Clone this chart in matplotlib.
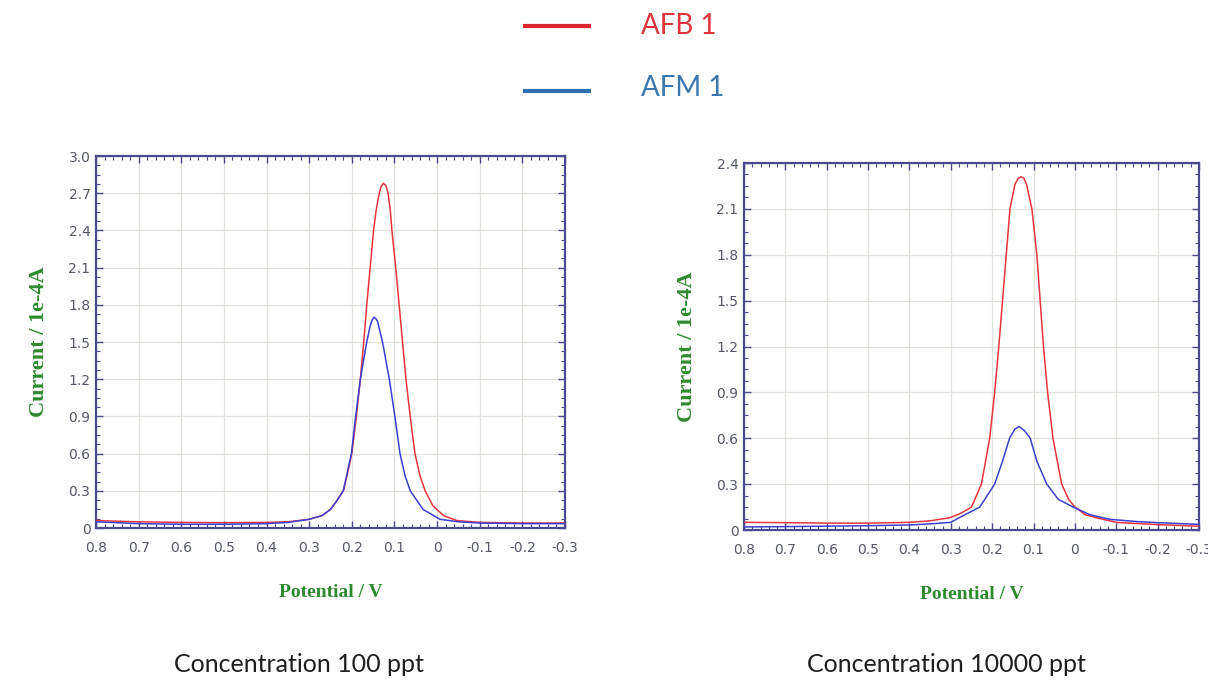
import matplotlib
matplotlib.use('Agg')
import matplotlib.pyplot as plt
import matplotlib.ticker as mticker

# ── Data (potential in V, current in 1e-4 A) ──
afb_100_x = [0.80, 0.70, 0.60, 0.50, 0.40, 0.35, 0.30, 0.27, 0.25, 0.235,
             0.22, 0.21, 0.20, 0.19, 0.18, 0.172, 0.165, 0.157, 0.149, 0.143,
             0.138, 0.132, 0.126, 0.12, 0.115, 0.11, 0.106, 0.097, 0.089,
             0.081, 0.073, 0.063, 0.052, 0.04, 0.028, 0.01, -0.015, -0.046,
             -0.10, -0.20, -0.30]
afb_100_y = [0.06, 0.05, 0.045, 0.043, 0.045, 0.05, 0.07, 0.10, 0.15, 0.22,
             0.30, 0.44, 0.60, 0.88, 1.20, 1.50, 1.80, 2.10, 2.40, 2.56,
             2.66, 2.75, 2.78, 2.76, 2.70, 2.57, 2.40, 2.10, 1.80,
             1.50, 1.20, 0.90, 0.60, 0.42, 0.30, 0.18, 0.10, 0.06,
             0.045, 0.04, 0.04]

afm_100_x = [0.80, 0.70, 0.60, 0.50, 0.40, 0.35, 0.30, 0.27, 0.25, 0.235,
             0.22, 0.201, 0.191, 0.18, 0.165, 0.157, 0.152, 0.148, 0.144,
             0.14, 0.128, 0.112, 0.099, 0.087, 0.075, 0.063, 0.033, -0.007,
             -0.05, -0.10, -0.20, -0.30]
afm_100_y = [0.05, 0.035, 0.03, 0.03, 0.035, 0.045, 0.07, 0.10, 0.15, 0.22,
             0.30, 0.60, 0.90, 1.20, 1.50, 1.63, 1.68, 1.70, 1.69,
             1.67, 1.50, 1.20, 0.90, 0.60, 0.42, 0.30, 0.15, 0.07,
             0.05, 0.04, 0.035, 0.035]

afb_10k_x = [0.80, 0.70, 0.60, 0.50, 0.40, 0.35, 0.303, 0.275, 0.25, 0.226,
             0.206, 0.194, 0.184, 0.175, 0.166, 0.157, 0.145, 0.137, 0.13,
             0.123, 0.117, 0.104, 0.092, 0.084, 0.076, 0.066, 0.053, 0.032,
             0.015, 0.0, -0.025, -0.052, -0.10, -0.20, -0.30]
afb_10k_y = [0.05, 0.048, 0.045, 0.045, 0.05, 0.06, 0.08, 0.11, 0.15, 0.30,
             0.60, 0.90, 1.20, 1.50, 1.80, 2.10, 2.26, 2.30, 2.31,
             2.30, 2.26, 2.10, 1.80, 1.50, 1.20, 0.90, 0.60, 0.30,
             0.20, 0.15, 0.10, 0.08, 0.05, 0.035, 0.025]

afm_10k_x = [0.80, 0.70, 0.60, 0.50, 0.40, 0.35, 0.30, 0.28, 0.23, 0.194,
             0.175, 0.158, 0.145, 0.135, 0.122, 0.108, 0.092, 0.068, 0.04,
             0.004, -0.036, -0.084, -0.15, -0.20, -0.30]
afm_10k_y = [0.02, 0.022, 0.025, 0.028, 0.033, 0.04, 0.05, 0.08, 0.15, 0.30,
             0.45, 0.60, 0.66, 0.677, 0.65, 0.60, 0.45, 0.30, 0.20,
             0.15, 0.10, 0.07, 0.055, 0.048, 0.037]

x_ticks = [0.8, 0.7, 0.6, 0.5, 0.4, 0.3, 0.2, 0.1, 0.0, -0.1, -0.2, -0.3]
y_ticks_100 = [0, 0.3, 0.6, 0.9, 1.2, 1.5, 1.8, 2.1, 2.4, 2.7, 3.0]
y_ticks_10k = [0, 0.3, 0.6, 0.9, 1.2, 1.5, 1.8, 2.1, 2.4]

legend_labels = ['AFB 1', 'AFM 1']
captions = ['Concentration 100 ppt', 'Concentration 10000 ppt']

# ── Style ──
RED = '#e8343c'
BLUE = '#3b3fd0'
LEG_RED = '#d9262b'
LEG_BLUE = '#2f6fb3'
LEG_RED_TXT = '#e0343c'
LEG_BLUE_TXT = '#3a78b0'
SPINE = '#4a4a8c'
GREEN = '#2e8a2e'
TICKFONT = ['Liberation Sans Narrow', 'DejaVu Sans']

W, H = 1208, 681
fig = plt.figure(figsize=(W / 100, H / 100), dpi=100)


def px_axes(x0, y0, x1, y1):
    return fig.add_axes([x0 / W, 1 - y1 / H, (x1 - x0) / W, (y1 - y0) / H])


def fmt(v, pos):
    return '0' if abs(v) < 1e-9 else f'{v:.1f}'


def style_panel(ax, yticks):
    ax.set_xlim(0.8, -0.3)
    ax.set_ylim(0, yticks[-1])
    ax.set_xticks(x_ticks)
    ax.set_yticks(yticks)
    ax.xaxis.set_major_formatter(mticker.FuncFormatter(fmt))
    ax.yaxis.set_major_formatter(mticker.FuncFormatter(fmt))
    ax.xaxis.set_minor_locator(mticker.MultipleLocator(0.02))
    ax.yaxis.set_minor_locator(mticker.MultipleLocator(0.075))
    ax.grid(True, which='major', color='#e0e0dc', linewidth=0.9)
    for s in ax.spines.values():
        s.set_color(SPINE)
        s.set_linewidth(1.6)
    ax.tick_params(which='both', direction='in', top=True, right=True,
                   color=SPINE)
    ax.tick_params(which='major', length=5, width=1.0, labelsize=10,
                   labelcolor='#555866')
    ax.tick_params(axis='x', which='major', pad=9)
    ax.tick_params(axis='y', which='major', pad=4)
    ax.tick_params(which='minor', length=3, width=0.8)
    for lab in ax.get_xticklabels() + ax.get_yticklabels():
        lab.set_family(TICKFONT)
    ax.set_xlabel('Potential / V', family='Liberation Serif', weight='bold',
                  color=GREEN, fontsize=14, labelpad=21)
    ax.set_ylabel('Current / 1e-4A', family='Liberation Serif', weight='bold',
                  color=GREEN, fontsize=16, labelpad=14)


ax1 = px_axes(96, 156, 565, 528)
ax1.plot(afb_100_x, afb_100_y, color=RED, lw=1.1, zorder=3)
ax1.plot(afm_100_x, afm_100_y, color=BLUE, lw=1.1, zorder=3)
style_panel(ax1, y_ticks_100)

ax2 = px_axes(744, 163, 1199, 530)
ax2.plot(afb_10k_x, afb_10k_y, color=RED, lw=1.1, zorder=3)
ax2.plot(afm_10k_x, afm_10k_y, color=BLUE, lw=1.1, zorder=3)
style_panel(ax2, y_ticks_10k)

# ── Legend drawn at the top ──
leg = fig.add_axes([0, 0, 1, 1], facecolor='none')
leg.set_xlim(0, W)
leg.set_ylim(H, 0)
leg.axis('off')
leg.plot([523, 591], [26, 26], color=LEG_RED, lw=3, solid_capstyle='butt')
leg.plot([523, 591], [91, 91], color=LEG_BLUE, lw=3, solid_capstyle='butt')
leg.text(641, 26, legend_labels[0], color=LEG_RED_TXT, fontsize=20,
         family='Lato', va='center', ha='left')
leg.text(641, 88, legend_labels[1], color=LEG_BLUE_TXT, fontsize=20,
         family='Lato', va='center', ha='left')

# ── Captions ──
leg.text(299, 664, captions[0], color='#1e1e1e', fontsize=18,
         family='Lato', va='center', ha='center')
leg.text(946, 664, captions[1], color='#1e1e1e', fontsize=18,
         family='Lato', va='center', ha='center')

fig.savefig('out.png', dpi=100)
